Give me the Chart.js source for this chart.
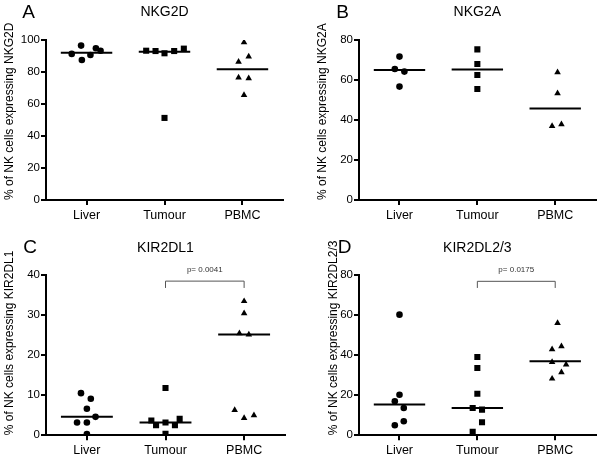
<!DOCTYPE html>
<html>
<head>
<meta charset="utf-8">
<script src="https://cdn.jsdelivr.net/npm/chart.js@4.4.0/dist/chart.umd.min.js"></script>
<style>
body { margin: 0; background: #fff; }
#wrap { position: relative; width: 600px; height: 457px; }
canvas { position: absolute; }
</style>
</head>
<body>
<div id="wrap">
    <canvas id="chartA" width="300" height="228" style="left:0;top:0"></canvas>
    <canvas id="chartB" width="300" height="228" style="left:300px;top:0"></canvas>
    <canvas id="chartC" width="300" height="229" style="left:0;top:228px"></canvas>
    <canvas id="chartD" width="300" height="229" style="left:300px;top:228px"></canvas>
</div>
<script>
const groups = ['Liver', 'Tumour', 'PBMC'];

// NKG2D (A)
const nkg2dLiver = [91.3, 96.5, 87.5, 90.6, 94.8, 93.3];
const nkg2dLiverJitter = [-0.19, -0.07, -0.06, 0.05, 0.12, 0.18];
const nkg2dTumour = [93.3, 93.1, 91.7, 51.3, 93.1, 94.6];
const nkg2dTumourJitter = [-0.235, -0.115, 0, 0, 0.124, 0.248];
const nkg2dPbmc = [98.5, 86.3, 89.6, 76.5, 76.0, 65.6];
const nkg2dPbmcJitter = [0.02, -0.05, 0.08, -0.05, 0.08, 0.02];
const nkg2dMedians = [92.1, 92.7, 81.7];

// NKG2A (B)
const nkg2aLiver = [71.7, 65.5, 64.2, 56.7];
const nkg2aLiverJitter = [0, -0.06, 0.063, 0];
const nkg2aTumour = [75.3, 68.0, 62.5, 55.5];
const nkg2aTumourJitter = [0, 0, 0, 0];
const nkg2aPbmc = [63.8, 53.3, 37.0, 37.8];
const nkg2aPbmcJitter = [0.03, 0.03, -0.04, 0.08];
const nkg2aMedians = [65.0, 65.2, 45.8];

// KIR2DL1 (C)
const kir1Liver = [10.5, 9.1, 6.6, 3.2, 3.2, 4.6, 0.3];
const kir1LiverJitter = [-0.075, 0.05, 0, -0.125, 0, 0.11, 0];
const kir1Tumour = [11.8, 3.7, 2.5, 3.2, 2.5, 4.1, 0.4];
const kir1TumourJitter = [0, -0.18, -0.12, 0, 0.12, 0.18, 0];
const kir1Pbmc = [33.4, 30.4, 25.4, 25.1, 6.3, 4.3, 5.0];
const kir1PbmcJitter = [0, 0, -0.06, 0.06, -0.12, 0, 0.125];
const kir1Medians = [4.6, 3.2, 25.1];

// KIR2DL2/3 (D)
const kir23Liver = [60.1, 20.2, 16.9, 13.6, 5.0, 7.0];
const kir23LiverJitter = [0, 0, -0.06, 0.055, -0.06, 0.055];
const kir23Tumour = [39.0, 33.5, 20.7, 13.6, 12.8, 6.5, 1.7];
const kir23TumourJitter = [0, 0, 0, -0.06, 0.06, 0.06, -0.06];
const kir23Pbmc = [55.9, 42.8, 44.3, 36.5, 35.2, 31.4, 28.2];
const kir23PbmcJitter = [0.03, -0.04, 0.08, -0.04, 0.14, 0.08, -0.04];
const kir23Medians = [15.3, 13.6, 36.9];

// significance brackets (Tumour vs PBMC)
const kir1Bracket = { from: 1, to: 2, y: 38.4, yEnd: 36.7, text: 'p= 0.0041' };
const kir23Bracket = { from: 1, to: 2, y: 76.7, yEnd: 73.4, text: 'p= 0.0175' };

const FONT = '"Liberation Sans", Arial, Helvetica, sans-serif';
const markers = ['circle', 'rect', 'triangle'];
const markerRadius = [3.3, 4.3, 3.8];

function points(values, jitter, idx) {
    return values.map((v, i) => ({ x: idx + jitter[i], y: v }));
}

const panelExtras = {
    id: 'panelExtras',
    afterDatasetsDraw(chart, args, opts) {
        const ctx = chart.ctx;
        ctx.save();
        ctx.fillStyle = '#000';
        ctx.font = '19px ' + FONT;
        ctx.textAlign = 'center';
        ctx.textBaseline = 'middle';
        ctx.fillText(opts.letter, opts.letterX, opts.letterY);
        if (opts.bracket) {
            const b = opts.bracket;
            const xs = chart.scales.x, ys = chart.scales.y;
            const x1 = xs.getPixelForValue(b.from), x2 = xs.getPixelForValue(b.to);
            const yt = ys.getPixelForValue(b.y), ye = ys.getPixelForValue(b.yEnd);
            ctx.strokeStyle = '#555';
            ctx.lineWidth = 1;
            ctx.beginPath();
            ctx.moveTo(x1, ye);
            ctx.lineTo(x1, yt);
            ctx.lineTo(x2, yt);
            ctx.lineTo(x2, ye);
            ctx.stroke();
            ctx.fillStyle = '#333';
            ctx.font = '8px ' + FONT;
            ctx.textBaseline = 'alphabetic';
            ctx.fillText(b.text, (x1 + x2) / 2, yt - 9);
        }
        ctx.restore();
    }
};

function makeChart(id, p) {
    const datasets = [];
    p.series.forEach((s, idx) => {
        datasets.push({
            type: 'scatter',
            data: points(s.values, s.jitter, idx),
            pointStyle: markers[idx],
            pointRadius: markerRadius[idx],
            pointHoverRadius: markerRadius[idx],
            backgroundColor: '#000',
            borderWidth: 0
        });
    });
    p.medians.forEach((m, idx) => {
        datasets.push({
            type: 'line',
            data: [{ x: idx - 0.33, y: m }, { x: idx + 0.33, y: m }],
            borderColor: '#000',
            borderWidth: 2,
            pointRadius: 0
        });
    });

    return new Chart(document.getElementById(id), {
        data: { datasets },
        options: {
            responsive: false,
            animation: false,
            layout: { padding: { left: p.padLeft, right: p.padRight, top: 0, bottom: 0 } },
            plugins: {
                legend: { display: false },
                tooltip: { enabled: false },
                title: {
                    display: true,
                    text: p.title,
                    fullSize: false,
                    color: '#000',
                    font: { family: FONT, size: 14, weight: 'normal' },
                    padding: p.titlePad
                },
                panelExtras: { letter: p.letter, letterX: p.letterX, letterY: p.letterY, bracket: p.bracket }
            },
            scales: {
                x: {
                    type: 'linear',
                    min: -0.52,
                    max: 2.52,
                    afterBuildTicks: (scale) => { scale.ticks = [{ value: 0 }, { value: 1 }, { value: 2 }]; },
                    afterFit: (scale) => { scale.height = p.xHeight; },
                    ticks: {
                        color: '#000',
                        padding: 3,
                        font: { family: FONT, size: 12.5 },
                        callback: (v) => groups[v]
                    },
                    grid: { drawOnChartArea: false, drawTicks: true, tickLength: 5, color: '#000', lineWidth: 2 },
                    border: { display: true, color: '#000', width: 2 }
                },
                y: {
                    min: 0,
                    max: p.yMax,
                    afterFit: (scale) => { scale.width = p.yWidth; },
                    ticks: {
                        stepSize: p.yStep,
                        color: '#000',
                        padding: 1,
                        font: { family: FONT, size: 11.5 }
                    },
                    grid: { drawOnChartArea: false, drawTicks: true, tickLength: 5, color: '#000', lineWidth: 2 },
                    border: { display: true, color: '#000', width: 2 },
                    title: {
                        display: true,
                        text: p.yTitle,
                        align: 'start',
                        color: '#000',
                        padding: { top: 2, bottom: 0 },
                        font: { family: FONT, size: 12 }
                    }
                }
            }
        },
        plugins: [panelExtras]
    });
}

makeChart('chartA', {
    title: 'NKG2D', letter: 'A', letterX: 28.5, letterY: 13,
    yTitle: '% of NK cells expressing NKG2D', yMax: 100, yStep: 20,
    padLeft: 0, padRight: 17, yWidth: 46, xHeight: 28,
    titlePad: { top: 4, bottom: 19.2 },
    series: [
        { values: nkg2dLiver, jitter: nkg2dLiverJitter },
        { values: nkg2dTumour, jitter: nkg2dTumourJitter },
        { values: nkg2dPbmc, jitter: nkg2dPbmcJitter }
    ],
    medians: nkg2dMedians
});

makeChart('chartB', {
    title: 'NKG2A', letter: 'B', letterX: 42.5, letterY: 12.5,
    yTitle: '% of NK cells expressing NKG2A', yMax: 80, yStep: 20,
    padLeft: 13, padRight: 0, yWidth: 46, xHeight: 28,
    titlePad: { top: 4, bottom: 19.2 },
    series: [
        { values: nkg2aLiver, jitter: nkg2aLiverJitter },
        { values: nkg2aTumour, jitter: nkg2aTumourJitter },
        { values: nkg2aPbmc, jitter: nkg2aPbmcJitter }
    ],
    medians: nkg2aMedians
});

makeChart('chartC', {
    title: 'KIR2DL1', letter: 'C', letterX: 30, letterY: 20,
    yTitle: '% of NK cells expressing KIR2DL1', yMax: 40, yStep: 10,
    padLeft: 0, padRight: 15, yWidth: 46, xHeight: 21.7,
    titlePad: { top: 11.5, bottom: 18.4 },
    series: [
        { values: kir1Liver, jitter: kir1LiverJitter },
        { values: kir1Tumour, jitter: kir1TumourJitter },
        { values: kir1Pbmc, jitter: kir1PbmcJitter }
    ],
    medians: kir1Medians,
    bracket: kir1Bracket
});

makeChart('chartD', {
    title: 'KIR2DL2/3', letter: 'D', letterX: 44.5, letterY: 20,
    yTitle: '% of NK cells expressing KIR2DL2/3', yMax: 80, yStep: 20,
    padLeft: 24, padRight: 0, yWidth: 35, xHeight: 21.7,
    titlePad: { top: 11.5, bottom: 18.4 },
    series: [
        { values: kir23Liver, jitter: kir23LiverJitter },
        { values: kir23Tumour, jitter: kir23TumourJitter },
        { values: kir23Pbmc, jitter: kir23PbmcJitter }
    ],
    medians: kir23Medians,
    bracket: kir23Bracket
});
</script>
</body>
</html>
